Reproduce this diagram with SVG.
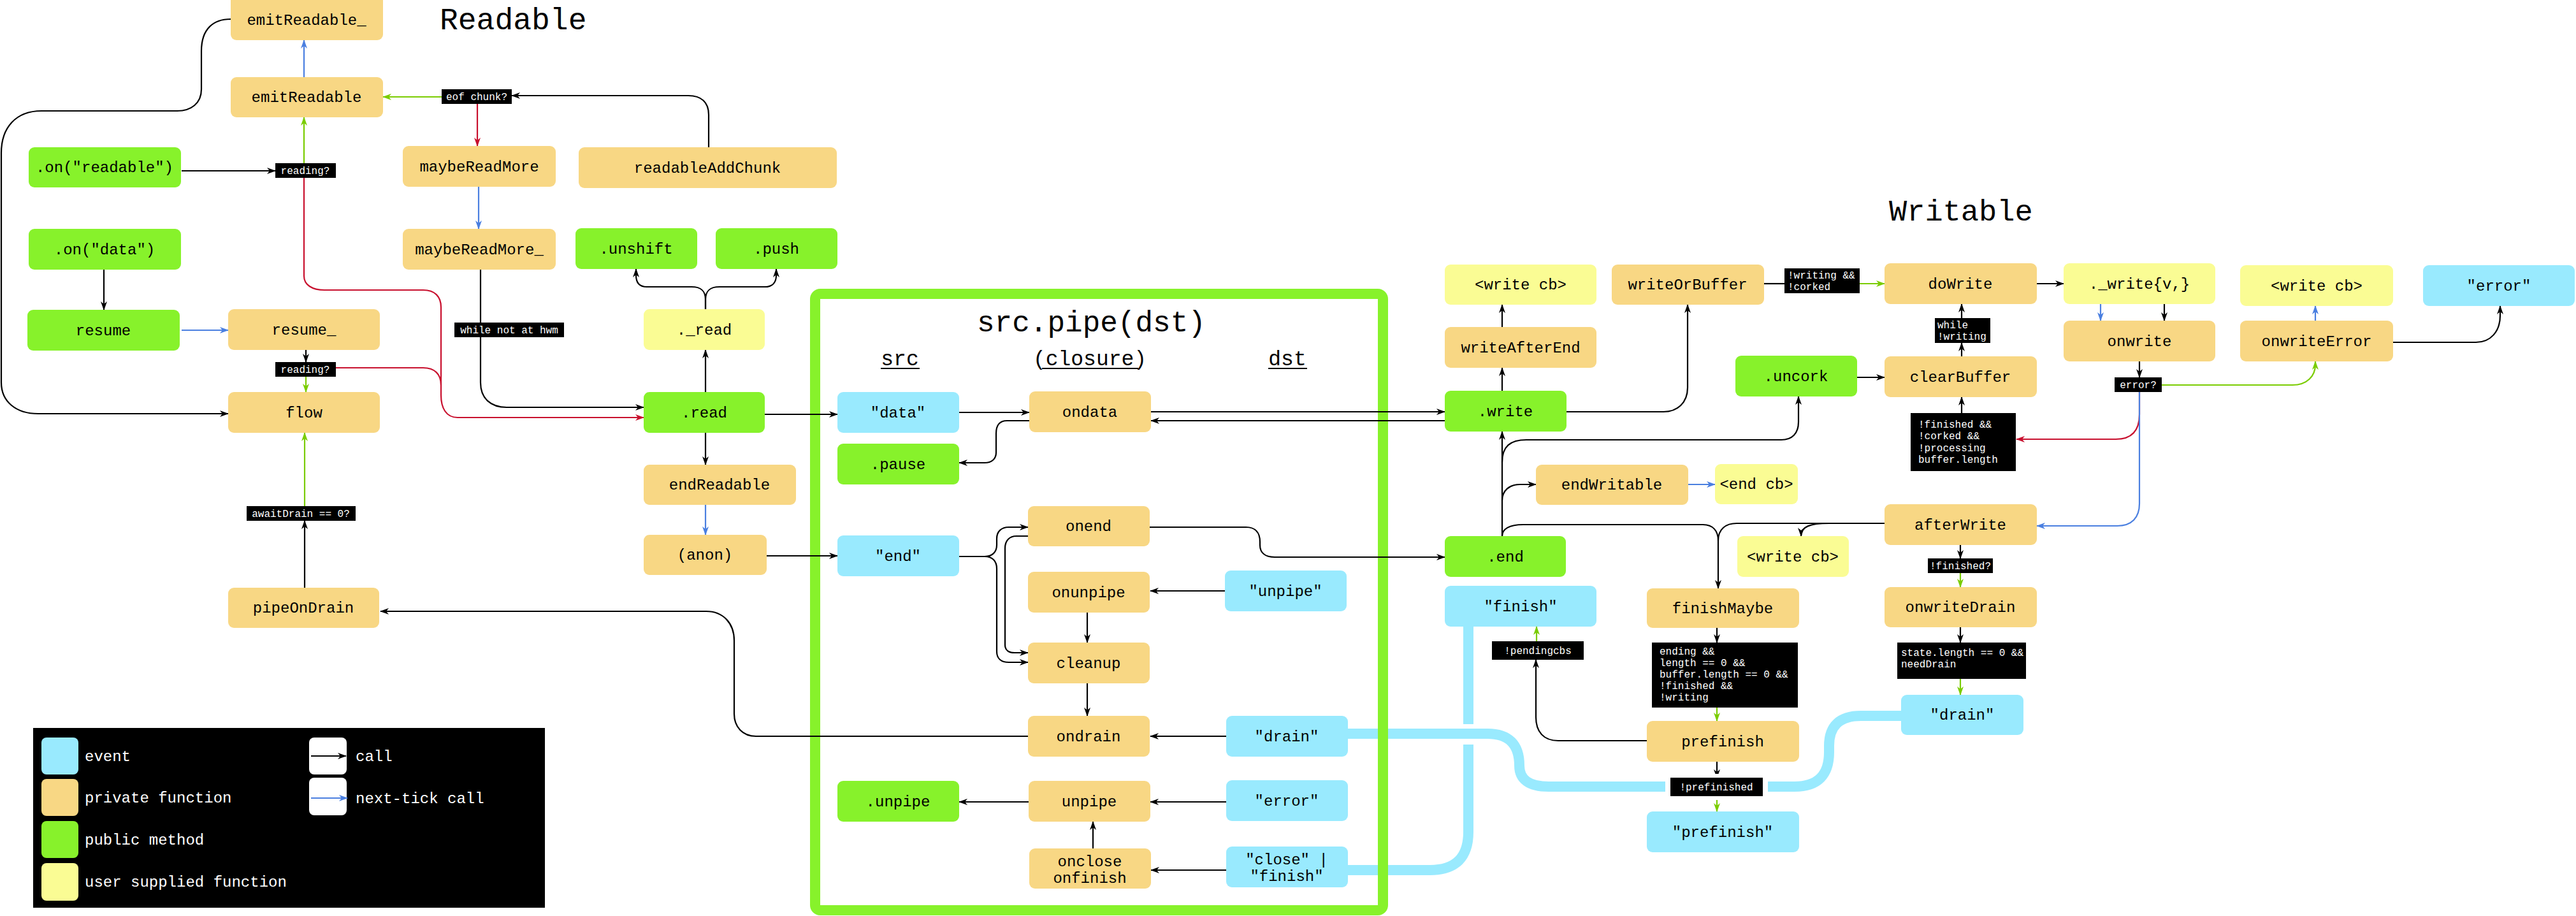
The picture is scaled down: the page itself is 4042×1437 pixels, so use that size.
<svg xmlns="http://www.w3.org/2000/svg" width="4042" height="1437" viewBox="0 0 4042 1437">
<style>
text{font-family:"Liberation Mono","DejaVu Sans Mono",monospace;}
.n{font-size:24px;fill:#000;text-anchor:middle;}
.t{font-size:24px;fill:#000;}
.pf{fill:#f8d784;}
.pm{fill:#87f22b;}
.ev{fill:#99eafe;}
.us{fill:#fafc94;}
.lb{fill:#000;}
.lt{font-size:16px;fill:#fff;}
.ltc{font-size:16px;fill:#fff;text-anchor:middle;}
.c{fill:none;stroke:#000;stroke-width:2.2;}
.cb{fill:none;stroke:#4a7fe0;stroke-width:2.2;}
.cg{fill:none;stroke:#7acc00;stroke-width:2.2;}
.cr{fill:none;stroke:#c8102e;stroke-width:2.2;}
.pipe{fill:none;stroke:#99eafe;stroke-width:16;}
.ma{marker-end:url(#ab);}
.mb{marker-end:url(#abl);}
.mg{marker-end:url(#ag);}
.mr{marker-end:url(#ar);}
.lg{font-size:24px;fill:#fff;}
</style>
<defs>
<marker id="ab" markerUnits="userSpaceOnUse" markerWidth="14" markerHeight="10" refX="13" refY="5" orient="auto"><path d="M0,0 L14,5 L0,10 L4,5 Z" fill="#000"/></marker>
<marker id="abl" markerUnits="userSpaceOnUse" markerWidth="14" markerHeight="10" refX="13" refY="5" orient="auto"><path d="M0,0 L14,5 L0,10 L4,5 Z" fill="#4a7fe0"/></marker>
<marker id="ag" markerUnits="userSpaceOnUse" markerWidth="14" markerHeight="10" refX="13" refY="5" orient="auto"><path d="M0,0 L14,5 L0,10 L4,5 Z" fill="#7acc00"/></marker>
<marker id="ar" markerUnits="userSpaceOnUse" markerWidth="14" markerHeight="10" refX="13" refY="5" orient="auto"><path d="M0,0 L14,5 L0,10 L4,5 Z" fill="#c8102e"/></marker>
</defs>
<rect x="0" y="0" width="4042" height="1437" fill="#fff"/>

<g id="titles">
<text x="690" y="46" style="font-size:48px">Readable</text>
<text x="2964" y="346" style="font-size:47px">Writable</text>
<text x="1533" y="520" style="font-size:46px">src.pipe(dst)</text>
<text x="1412" y="573" style="font-size:33px;text-anchor:middle">src</text>
<line x1="1382" y1="578" x2="1443" y2="578" stroke="#000" stroke-width="2"/>
<text x="1710" y="573" style="font-size:33px;text-anchor:middle">(closure)</text>
<line x1="1635" y1="578" x2="1786" y2="578" stroke="#000" stroke-width="2"/>
<text x="2020" y="573" style="font-size:33px;text-anchor:middle">dst</text>
<line x1="1990" y1="578" x2="2051" y2="578" stroke="#000" stroke-width="2"/>
</g>

<g id="pipes">
<path class="pipe" d="M2115,1151 L2334,1151 Q2384,1151 2384,1201 Q2384,1234 2430,1234 L2816,1234 Q2870,1234 2870,1180 L2870,1170 Q2870,1123 2920,1123 L2983,1123"/>
<path class="pipe" d="M2115,1365 L2244,1365 Q2304,1365 2304,1305 L2304,1168"/>
<path class="pipe" d="M2304,1136 L2304,983"/>
</g>

<g id="pipe-box">
<rect x="1279" y="461" width="891" height="967" rx="8" fill="none" stroke="#87f22b" stroke-width="16"/>
</g>

<g id="connectors">
<!-- black calls -->
<path class="c ma" d="M285,268 L432,268"/>
<path class="c ma" d="M1112,231 L1112,180 C1112,160 1100,150 1080,150 L803,150"/>
<path class="c ma" d="M163,423 L163,486"/>
<path class="c ma" d="M480,549 L480,568"/>
<path class="c ma" d="M478,922 L478,817"/>
<path class="c ma" d="M362,30 C335,30 316,45 316,80 L316,140 C316,162 300,174 278,174 L65,174 C25,174 2,200 2,240 L2,600 C2,630 25,649 60,649 L358,649"/>
<path class="c ma" d="M754,423 L754,600 C754,625 770,639 795,639 L1010,639"/>
<path class="c ma" d="M1107,615 L1107,549"/>
<path class="c ma" d="M1107,485 L1107,470 C1107,456 1100,450 1085,450 L1015,450 C1003,450 998,443 998,432 L998,422"/>
<path class="c ma" d="M1107,485 L1107,470 C1107,456 1114,450 1129,450 L1200,450 C1212,450 1218,443 1218,432 L1218,422"/>
<path class="c ma" d="M1107,679 L1107,729"/>
<path class="c ma" d="M1200,650 L1314,650"/>
<path class="c ma" d="M1203,872 L1314,872"/>
<path class="c ma" d="M1505,647 L1615,647"/>
<path class="c ma" d="M1806,646 L2267,646"/>
<path class="c ma" d="M2267,660 L1806,660"/>
<path class="c ma" d="M1615,660 L1580,660 C1568,660 1563,668 1563,680 L1563,710 C1563,720 1556,726 1545,726 L1505,726"/>
<path class="c ma" d="M1505,873 L1545,873 C1557,873 1564,866 1564,855 L1564,845 C1564,834 1571,827 1583,827 L1613,827"/>
<path class="c ma" d="M1505,873 L1545,873 C1557,873 1564,880 1564,892 L1564,1022 C1564,1033 1571,1039 1583,1039 L1613,1039"/>
<path class="c ma" d="M1613,841 L1595,841 C1584,841 1577,848 1577,860 L1577,1012 C1577,1020 1583,1024 1592,1024 L1613,1024"/>
<path class="c ma" d="M1804,827 L1955,827 C1970,827 1977,836 1977,850 L1977,855 C1977,867 1985,874 2000,874 L2267,874"/>
<path class="c ma" d="M1922,927 L1805,927"/>
<path class="c ma" d="M1706,961 L1706,1008"/>
<path class="c ma" d="M1706,1072 L1706,1123"/>
<path class="c ma" d="M1924,1155 L1805,1155"/>
<path class="c ma" d="M1613,1155 L1186,1155 C1165,1155 1152,1140 1152,1120 L1152,1005 C1152,978 1135,959 1108,959 L597,959"/>
<path class="c ma" d="M1924,1258 L1805,1258"/>
<path class="c ma" d="M1614,1258 L1505,1258"/>
<path class="c ma" d="M1715,1331 L1715,1289"/>
<path class="c ma" d="M1924,1365 L1806,1365"/>
<path class="c ma" d="M2357,613 L2357,577"/>
<path class="c ma" d="M2357,513 L2357,478"/>
<path class="c ma" d="M2458,646 L2610,646 C2632,646 2648,632 2648,608 L2648,478"/>
<path class="c" d="M2768,445 L2800,445"/>
<path class="c ma" d="M3196,445 L3238,445"/>
<path class="c ma" d="M3396,477 L3396,503"/>
<path class="c ma" d="M3357,567 L3357,592"/>
<path class="c ma" d="M3755,537 L3885,537 C3908,537 3923,520 3923,495 L3923,480"/>
<path class="c ma" d="M3078,499 L3078,477"/>
<path class="c ma" d="M3078,559 L3078,538"/>
<path class="c ma" d="M3078,648 L3078,623"/>
<path class="c ma" d="M2914,592 L2957,592"/>
<path class="c ma" d="M2357,841 L2357,677"/>
<path class="c ma" d="M2357,725 C2357,700 2370,690 2395,690 L2795,690 C2812,690 2822,680 2822,662 L2822,622"/>
<path class="c ma" d="M2357,785 C2357,770 2368,760 2385,760 L2410,760"/>
<path class="c ma" d="M2357,841 C2357,830 2368,823 2390,823 L2672,823 C2688,823 2696,833 2696,848 L2696,923"/>
<path class="c" d="M2957,821 L2725,821 C2708,821 2696,830 2696,848"/>
<path class="c ma" d="M2870,821 C2840,821 2826,826 2826,841"/>
<path class="c ma" d="M3076,855 L3076,876"/>
<path class="c ma" d="M3076,984 L3076,1008"/>
<path class="c ma" d="M2694,985 L2694,1008"/>
<path class="c ma" d="M2584,1162 L2445,1162 C2422,1162 2410,1148 2410,1125 L2410,1035"/>
<path class="c ma" d="M2694,1195 L2694,1220"/>
<!-- green -->
<path class="cg mg" d="M693,152 L601,152"/>
<path class="cg mg" d="M477,256 L477,184"/>
<path class="cg mg" d="M480,591 L480,615"/>
<path class="cg mg" d="M478,794 L478,679"/>
<path class="cg mg" d="M2918,445 L2957,445"/>
<path class="cg mg" d="M3392,604 L3597,604 C3620,604 3633,590 3633,572 L3633,567"/>
<path class="cg mg" d="M3076,899 L3076,921"/>
<path class="cg mg" d="M3076,1065 L3076,1090"/>
<path class="cg mg" d="M2694,1110 L2694,1131"/>
<path class="cg mg" d="M2411,1006 L2411,983"/>
<path class="cg mg" d="M2694,1249 L2694,1273"/>
<!-- red -->
<path class="cr mr" d="M749,163 L749,229"/>
<path class="cr mr" d="M477,279 L477,433 C477,447 490,455 509,455 L664,455 C682,455 692,465 692,482 L692,620 C692,640 700,655 718,655 L1010,655"/>
<path class="cr" d="M527,577 L664,577 C682,577 692,587 692,604"/>
<path class="cr mr" d="M3357,615 L3357,650 C3357,675 3345,689 3320,689 L3164,689"/>
<!-- blue -->
<path class="cb mb" d="M477,121 L477,63"/>
<path class="cb mb" d="M285,518 L358,518"/>
<path class="cb mb" d="M751,293 L751,359"/>
<path class="cb mb" d="M1107,792 L1107,839"/>
<path class="cb mb" d="M2649,760 L2691,760"/>
<path class="cb mb" d="M3296,477 L3296,503"/>
<path class="cb mb" d="M3633,503 L3633,480"/>
<path class="cb mb" d="M3357,615 L3357,790 C3357,812 3345,825 3322,825 L3196,825"/>
</g>

<g id="n-emitReadable_"><rect class="pf" x="362" y="-8" width="239" height="71" rx="9"/><text class="n" x="481" y="39">emitReadable_</text></g>
<g id="n-emitReadable"><rect class="pf" x="362" y="121" width="239" height="63" rx="9"/><text class="n" x="481" y="160">emitReadable</text></g>
<g id="n-onreadable"><rect class="pm" x="45" y="231" width="239" height="63" rx="9"/><text class="n" x="164" y="270">.on("readable")</text></g>
<g id="n-maybeReadMore"><rect class="pf" x="632" y="229" width="240" height="64" rx="9"/><text class="n" x="752" y="269">maybeReadMore</text></g>
<g id="n-readableAddChunk"><rect class="pf" x="908" y="231" width="405" height="64" rx="9"/><text class="n" x="1110" y="271">readableAddChunk</text></g>
<g id="n-ondata-pub"><rect class="pm" x="45" y="359" width="239" height="64" rx="9"/><text class="n" x="164" y="399">.on("data")</text></g>
<g id="n-maybeReadMore_"><rect class="pf" x="632" y="359" width="240" height="64" rx="9"/><text class="n" x="752" y="399">maybeReadMore_</text></g>
<g id="n-unshift"><rect class="pm" x="903" y="358" width="191" height="64" rx="9"/><text class="n" x="998" y="398">.unshift</text></g>
<g id="n-push"><rect class="pm" x="1123" y="358" width="191" height="64" rx="9"/><text class="n" x="1218" y="398">.push</text></g>
<g id="n-resume"><rect class="pm" x="43" y="486" width="239" height="64" rx="9"/><text class="n" x="162" y="526">resume</text></g>
<g id="n-resume_"><rect class="pf" x="358" y="485" width="238" height="64" rx="9"/><text class="n" x="477" y="525">resume_</text></g>
<g id="n-_read"><rect class="us" x="1010" y="485" width="190" height="64" rx="9"/><text class="n" x="1105" y="525">._read</text></g>
<g id="n-flow"><rect class="pf" x="358" y="615" width="238" height="64" rx="9"/><text class="n" x="477" y="655">flow</text></g>
<g id="n-read"><rect class="pm" x="1010" y="615" width="190" height="64" rx="9"/><text class="n" x="1105" y="655">.read</text></g>
<g id="n-endReadable"><rect class="pf" x="1010" y="729" width="239" height="63" rx="9"/><text class="n" x="1129" y="768">endReadable</text></g>
<g id="n-anon"><rect class="pf" x="1010" y="839" width="193" height="63" rx="9"/><text class="n" x="1106" y="878">(anon)</text></g>
<g id="n-pipeOnDrain"><rect class="pf" x="358" y="922" width="237" height="63" rx="9"/><text class="n" x="476" y="961">pipeOnDrain</text></g>

<g id="n-ev-data"><rect class="ev" x="1314" y="615" width="191" height="64" rx="9"/><text class="n" x="1409" y="655">"data"</text></g>
<g id="n-ondata"><rect class="pf" x="1615" y="614" width="191" height="64" rx="9"/><text class="n" x="1710" y="654">ondata</text></g>
<g id="n-pause"><rect class="pm" x="1314" y="696" width="191" height="64" rx="9"/><text class="n" x="1409" y="736">.pause</text></g>
<g id="n-onend"><rect class="pf" x="1613" y="794" width="191" height="63" rx="9"/><text class="n" x="1708" y="833">onend</text></g>
<g id="n-ev-end"><rect class="ev" x="1314" y="840" width="191" height="64" rx="9"/><text class="n" x="1409" y="880">"end"</text></g>
<g id="n-onunpipe"><rect class="pf" x="1613" y="897" width="191" height="64" rx="9"/><text class="n" x="1708" y="937">onunpipe</text></g>
<g id="n-ev-unpipe"><rect class="ev" x="1922" y="895" width="191" height="64" rx="9"/><text class="n" x="2017" y="935">"unpipe"</text></g>
<g id="n-cleanup"><rect class="pf" x="1613" y="1008" width="191" height="64" rx="9"/><text class="n" x="1708" y="1048">cleanup</text></g>
<g id="n-ondrain"><rect class="pf" x="1613" y="1123" width="191" height="64" rx="9"/><text class="n" x="1708" y="1163">ondrain</text></g>
<g id="n-ev-drain-dst"><rect class="ev" x="1924" y="1123" width="191" height="64" rx="9"/><text class="n" x="2019" y="1163">"drain"</text></g>
<g id="n-unpipe-pub"><rect class="pm" x="1314" y="1225" width="191" height="64" rx="9"/><text class="n" x="1409" y="1265">.unpipe</text></g>
<g id="n-unpipe"><rect class="pf" x="1614" y="1225" width="191" height="64" rx="9"/><text class="n" x="1709" y="1265">unpipe</text></g>
<g id="n-ev-error-dst"><rect class="ev" x="1924" y="1224" width="191" height="64" rx="9"/><text class="n" x="2019" y="1264">"error"</text></g>
<g id="n-onclose"><rect class="pf" x="1615" y="1331" width="191" height="63" rx="9"/><text class="n" x="1710" y="1359">onclose</text><text class="n" x="1710" y="1385">onfinish</text></g>
<g id="n-ev-close"><rect class="ev" x="1924" y="1328" width="191" height="64" rx="9"/><text class="n" x="2019" y="1356">"close" |</text><text class="n" x="2019" y="1382">"finish"</text></g>

<g id="n-writecb1"><rect class="us" x="2267" y="415" width="238" height="63" rx="9"/><text class="n" x="2386" y="454">&lt;write cb&gt;</text></g>
<g id="n-writeOrBuffer"><rect class="pf" x="2529" y="415" width="239" height="63" rx="9"/><text class="n" x="2648" y="454">writeOrBuffer</text></g>
<g id="n-doWrite"><rect class="pf" x="2957" y="413" width="239" height="64" rx="9"/><text class="n" x="3076" y="453">doWrite</text></g>
<g id="n-_write"><rect class="us" x="3238" y="413" width="238" height="64" rx="9"/><text class="n" x="3357" y="453">._write{v,}</text></g>
<g id="n-writecb2"><rect class="us" x="3515" y="416" width="240" height="64" rx="9"/><text class="n" x="3635" y="456">&lt;write cb&gt;</text></g>
<g id="n-ev-error-w"><rect class="ev" x="3802" y="416" width="238" height="64" rx="9"/><text class="n" x="3921" y="456">"error"</text></g>
<g id="n-writeAfterEnd"><rect class="pf" x="2267" y="513" width="238" height="64" rx="9"/><text class="n" x="2386" y="553">writeAfterEnd</text></g>
<g id="n-onwrite"><rect class="pf" x="3238" y="503" width="238" height="64" rx="9"/><text class="n" x="3357" y="543">onwrite</text></g>
<g id="n-onwriteError"><rect class="pf" x="3515" y="503" width="240" height="64" rx="9"/><text class="n" x="3635" y="543">onwriteError</text></g>
<g id="n-uncork"><rect class="pm" x="2723" y="558" width="191" height="64" rx="9"/><text class="n" x="2818" y="598">.uncork</text></g>
<g id="n-clearBuffer"><rect class="pf" x="2957" y="559" width="239" height="64" rx="9"/><text class="n" x="3076" y="599">clearBuffer</text></g>
<g id="n-write"><rect class="pm" x="2267" y="613" width="191" height="64" rx="9"/><text class="n" x="2362" y="653">.write</text></g>
<g id="n-endWritable"><rect class="pf" x="2410" y="729" width="239" height="63" rx="9"/><text class="n" x="2529" y="768">endWritable</text></g>
<g id="n-endcb"><rect class="us" x="2691" y="728" width="130" height="63" rx="9"/><text class="n" x="2756" y="767">&lt;end cb&gt;</text></g>
<g id="n-afterWrite"><rect class="pf" x="2957" y="791" width="239" height="64" rx="9"/><text class="n" x="3076" y="831">afterWrite</text></g>
<g id="n-end"><rect class="pm" x="2267" y="841" width="190" height="64" rx="9"/><text class="n" x="2362" y="881">.end</text></g>
<g id="n-writecb3"><rect class="us" x="2726" y="841" width="175" height="64" rx="9"/><text class="n" x="2813" y="881">&lt;write cb&gt;</text></g>
<g id="n-ev-finish"><rect class="ev" x="2267" y="919" width="238" height="64" rx="9"/><text class="n" x="2386" y="959">"finish"</text></g>
<g id="n-finishMaybe"><rect class="pf" x="2584" y="923" width="239" height="62" rx="9"/><text class="n" x="2703" y="962">finishMaybe</text></g>
<g id="n-onwriteDrain"><rect class="pf" x="2957" y="921" width="239" height="63" rx="9"/><text class="n" x="3076" y="960">onwriteDrain</text></g>
<g id="n-ev-drain-w"><rect class="ev" x="2983" y="1090" width="192" height="63" rx="9"/><text class="n" x="3079" y="1129">"drain"</text></g>
<g id="n-prefinish"><rect class="pf" x="2584" y="1131" width="239" height="64" rx="9"/><text class="n" x="2703" y="1171">prefinish</text></g>
<g id="n-ev-prefinish"><rect class="ev" x="2584" y="1273" width="239" height="64" rx="9"/><text class="n" x="2703" y="1313">"prefinish"</text></g>

<g id="labels">
<rect class="lb" x="693" y="140" width="110" height="23"/><text class="ltc" x="748" y="157">eof chunk?</text>
<rect class="lb" x="432" y="256" width="95" height="23"/><text class="ltc" x="479" y="273">reading?</text>
<rect class="lb" x="432" y="568" width="95" height="23"/><text class="ltc" x="479" y="585">reading?</text>
<rect class="lb" x="713" y="506" width="172" height="23"/><text class="ltc" x="799" y="523">while not at hwm</text>
<rect class="lb" x="387" y="794" width="171" height="23"/><text class="ltc" x="472" y="811">awaitDrain == 0?</text>
<rect class="lb" x="2800" y="421" width="118" height="39"/><text class="lt" x="2805" y="437">!writing &amp;&amp;</text><text class="lt" x="2805" y="455">!corked</text>
<rect class="lb" x="3036" y="499" width="87" height="39"/><text class="lt" x="3040" y="515">while</text><text class="lt" x="3040" y="533">!writing</text>
<rect class="lb" x="3318" y="592" width="74" height="23"/><text class="ltc" x="3355" y="609">error?</text>
<rect class="lb" x="2998" y="648" width="165" height="91"/><text class="lt" x="3010" y="671">!finished &amp;&amp;</text><text class="lt" x="3010" y="689">!corked &amp;&amp;</text><text class="lt" x="3010" y="708">!processing</text><text class="lt" x="3010" y="726">buffer.length</text>
<rect class="lb" x="3025" y="876" width="102" height="23"/><text class="ltc" x="3076" y="893">!finished?</text>
<rect class="lb" x="2341" y="1006" width="144" height="29"/><text class="ltc" x="2413" y="1026">!pendingcbs</text>
<rect class="lb" x="2592" y="1008" width="229" height="102"/><text class="lt" x="2604" y="1027">ending &amp;&amp;</text><text class="lt" x="2604" y="1045">length == 0 &amp;&amp;</text><text class="lt" x="2604" y="1063">buffer.length == 0 &amp;&amp;</text><text class="lt" x="2604" y="1081">!finished &amp;&amp;</text><text class="lt" x="2604" y="1099">!writing</text>
<rect class="lb" x="2977" y="1008" width="202" height="57"/><text class="lt" x="2983" y="1029">state.length == 0 &amp;&amp;</text><text class="lt" x="2983" y="1047">needDrain</text>
<rect x="2613" y="1214" width="161" height="41" fill="#fff"/>
<rect class="lb" x="2621" y="1220" width="145" height="29"/><text class="ltc" x="2693" y="1240">!prefinished</text>
</g>

<g id="legend">
<rect x="52" y="1142" width="803" height="282" fill="#000"/>
<rect class="ev" x="65" y="1157" width="58" height="58" rx="8"/><text class="lg" x="133" y="1194">event</text>
<rect class="pf" x="65" y="1222" width="58" height="58" rx="8"/><text class="lg" x="133" y="1259">private function</text>
<rect class="pm" x="65" y="1288" width="58" height="58" rx="8"/><text class="lg" x="133" y="1325">public method</text>
<rect class="us" x="65" y="1354" width="58" height="59" rx="8"/><text class="lg" x="133" y="1391">user supplied function</text>
<rect x="485" y="1157" width="59" height="58" rx="8" fill="#fff"/><path class="c ma" d="M488,1186 L543,1186"/><text class="lg" x="558" y="1194">call</text>
<rect x="485" y="1220" width="59" height="59" rx="8" fill="#fff"/><path class="cb mb" d="M488,1252 L545,1252"/><text class="lg" x="558" y="1260">next-tick call</text>
</g>
</svg>
